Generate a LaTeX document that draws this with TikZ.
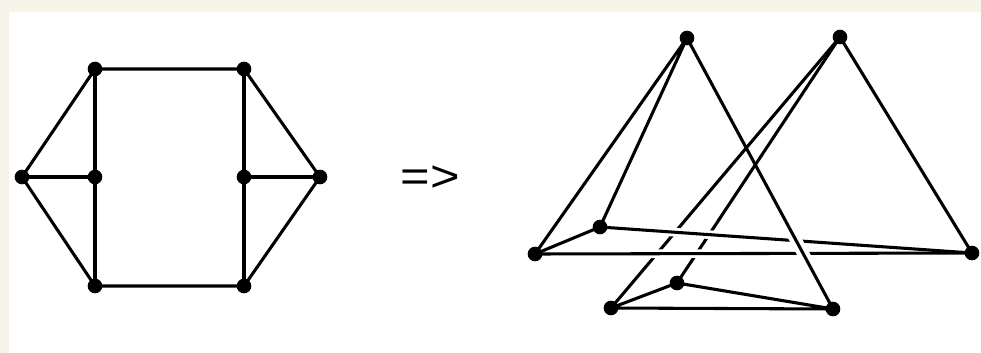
\documentclass[tikz,border=0pt]{standalone}
\usepackage{fontspec}
\setmainfont{Liberation Sans}
\usetikzlibrary{calc}
\definecolor{paper}{RGB}{247,244,233}

\begin{document}
\begin{tikzpicture}[x=0.75pt, y=-0.75pt, line cap=round, line join=round,
  edge/.style={line width=2.3pt},
  halo/.style={white, line width=#1, line cap=butt},
  halo/.default=6.5pt]

%==================================================
% Frame
%==================================================
\fill[paper] (0,0) rectangle (981,353);
\fill[white] (8.5,12) rectangle (981,353);

%==================================================
% Left graph (hexagon with two spokes)
%==================================================
\coordinate (TL) at (95,69);
\coordinate (TR) at (244,69);
\coordinate (L)  at (22,177);
\coordinate (IL) at (95,177);
\coordinate (IR) at (244,177);
\coordinate (R)  at (320,177);
\coordinate (BL) at (95,286);
\coordinate (BR) at (244,286);

\draw[edge] (TL) -- (TR) -- (R) -- (BR) -- (BL) -- (L) -- cycle;
\draw[edge] (TL) -- (IL) -- (BL);
\draw[edge] (TR) -- (IR) -- (BR);
\draw[edge] (L) -- (IL);
\draw[edge] (IR) -- (R);

\foreach \p in {TL,TR,L,IL,IR,R,BL,BR}{
  \fill[black] (\p) circle (5.5pt);
}

%==================================================
% Arrow sign
%==================================================
\node[font=\fontsize{33}{33}\selectfont, xscale=1.15] (sign) at (430,179) {=>};

%==================================================
% Right drawing: two tetrahedra
%==================================================
\coordinate (T1) at (687,38);   % left apex
\coordinate (T2) at (840,37);   % right apex
\coordinate (U1) at (535,254);  % upper base, left
\coordinate (U2) at (600,227);  % upper base, back
\coordinate (U3) at (972,253);  % upper base, right
\coordinate (V1) at (611,308);  % lower base, left
\coordinate (V2) at (677,283);  % lower base, back
\coordinate (V3) at (833,309);  % lower base, right

% Lines passing underneath
\draw[edge] (T2) -- (V1);
\draw[edge] (T2) -- (V2);
\draw[edge] (T2) -- (U3);

% Lower base
\draw[edge] (V1) -- (V2) -- (V3) -- cycle;

% Upper tetrahedron sides
\draw[edge] (T1) -- (U1) -- (U2) -- cycle;

% Upper base edges, drawn over the right apex lines
\draw[halo] ($(U2)!0.10!(U3)$) -- ($(U2)!0.36!(U3)$);
\draw[edge] (U2) -- (U3);
\draw[halo] ($(U1)!0.24!(U3)$) -- ($(U1)!0.42!(U3)$);
\draw[edge] (U1) -- (U3);

% Long edge in front
\draw[halo=9pt] ($(T1)!0.66!(V3)$) -- ($(T1)!0.88!(V3)$);
\draw[edge] (T1) -- (V3);

\foreach \p in {T1,T2,U1,U2,U3,V1,V2,V3}{
  \fill[black] (\p) circle (5.5pt);
}

\end{tikzpicture}
\end{document}
